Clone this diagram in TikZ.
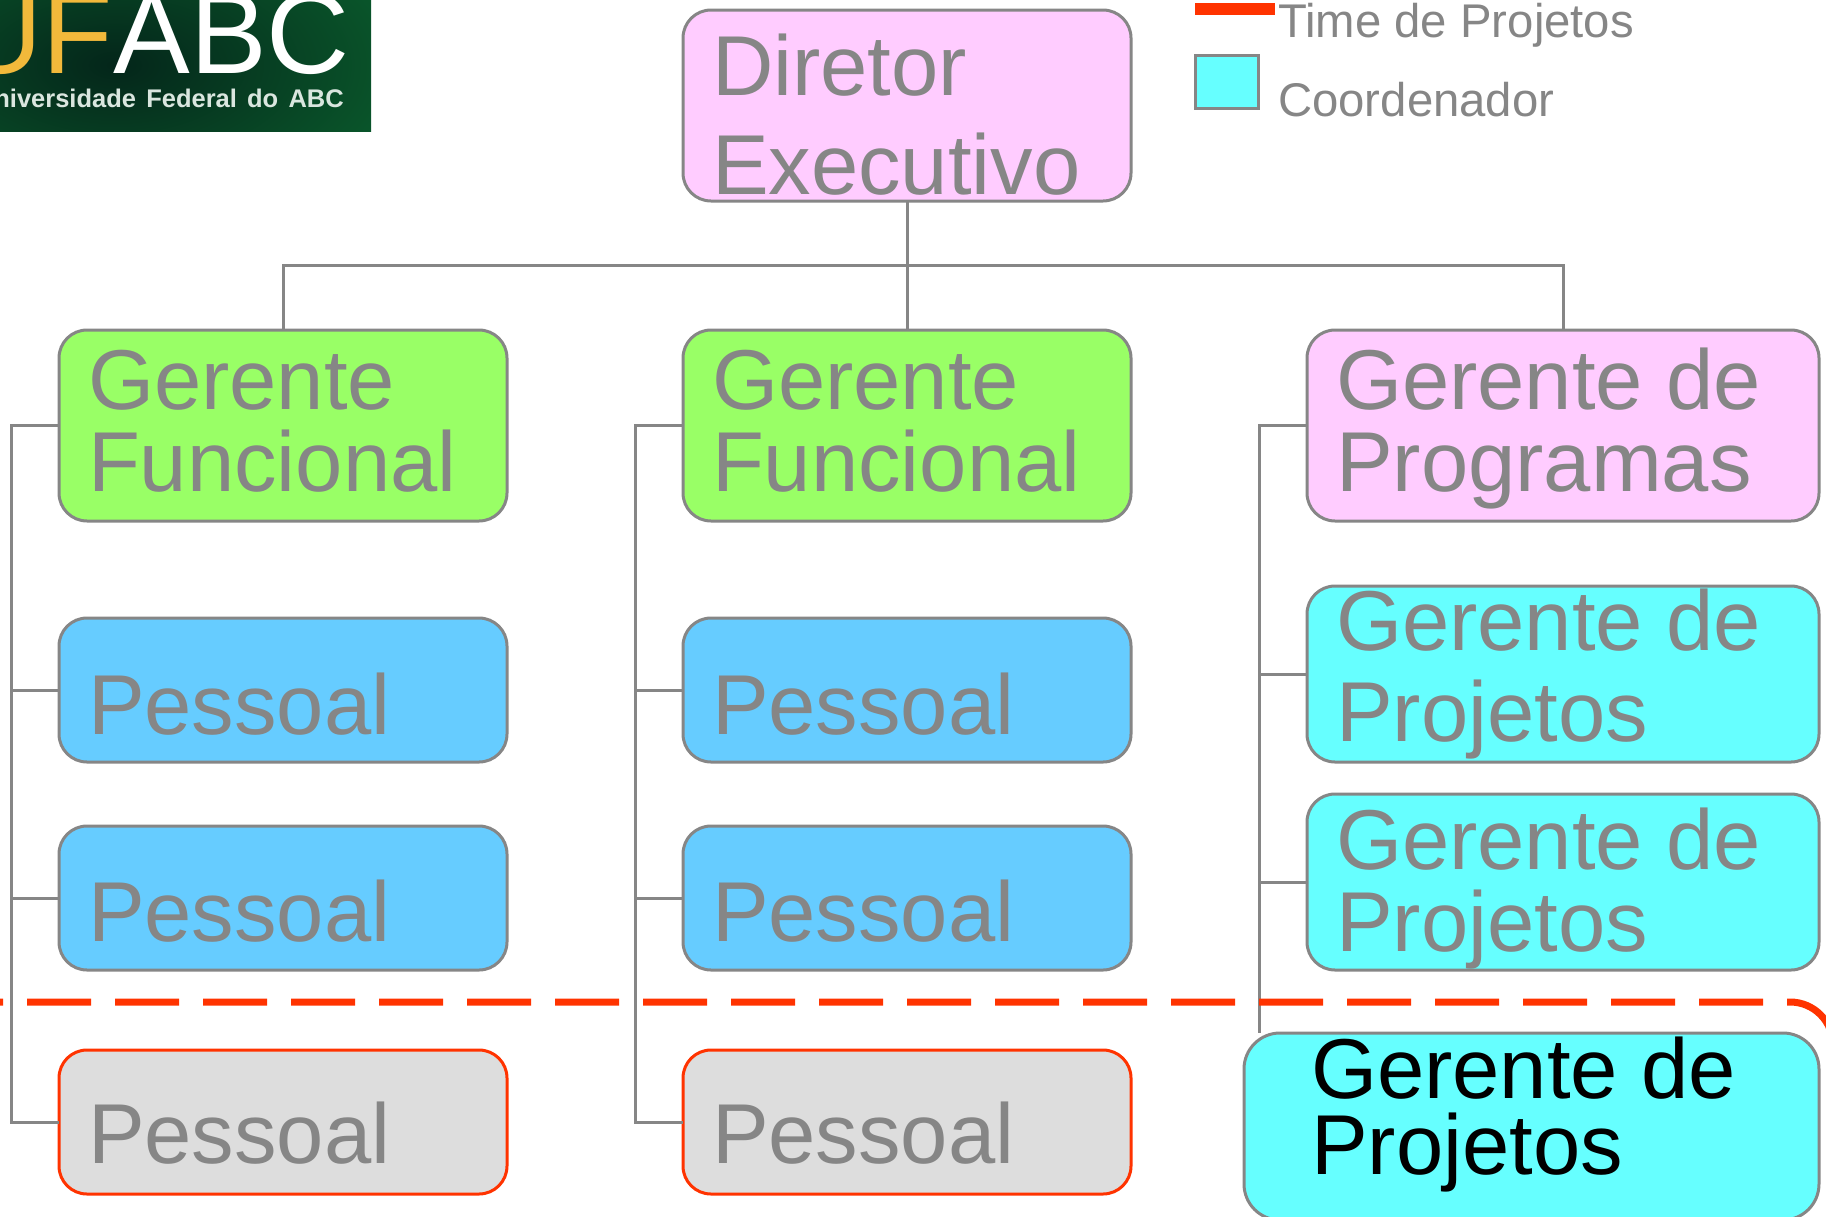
\documentclass[tikz,border=0pt]{standalone}
\usepackage{fontspec}
\setmainfont{Liberation Sans}
\usepackage{tikz}
\usetikzlibrary{positioning}
\definecolor{linegray}{HTML}{868686}
\definecolor{teamred}{HTML}{FF3300}
\definecolor{boxpink}{HTML}{FFCCFF}
\definecolor{boxgreen}{HTML}{99FF66}
\definecolor{boxblue}{HTML}{66CCFF}
\definecolor{boxcyan}{HTML}{66FFFF}
\definecolor{boxgray}{HTML}{DDDDDD}
\definecolor{logogreen}{HTML}{0A5A2C}
\definecolor{logodark}{HTML}{04261A}
\definecolor{logogold}{HTML}{F2B93B}
\tikzset{
    orgbox/.style={draw=linegray, line width=3pt, rounded corners=28pt, outer sep=0pt,
        inner ysep=0pt, inner xsep=29pt, align=flush left, text=linegray},
    wide/.style={text width=390pt},
    wider/.style={text width=454pt},
    leading/.style={font=\fontsize{85pt}{#1pt}\selectfont},
    staffbox/.style={orgbox, wide, fill=boxblue, leading=82, text height=116pt, text depth=28pt},
    funcbox/.style={orgbox, wide, fill=boxgreen, leading=82, text height=79pt, text depth=112pt},
    teambox/.style={staffbox, draw=teamred, fill=boxgray, text height=113pt, text depth=31pt},
    orgline/.style={draw=linegray, line width=3pt},
    legendtext/.style={anchor=base west, inner sep=0pt, text=linegray, font=\fontsize{47.3pt}{50pt}\selectfont},
}
\begin{document}
\begin{tikzpicture}
    \useasboundingbox (0,0) rectangle (1826pt,-1216pt);
    % logo
    \begin{scope}
        \clip (0,0) rectangle (371pt,-131pt);
        \shade[inner color=logodark, outer color=logogreen] (-200pt,-230pt) rectangle (430pt,100pt);
        \node[anchor=base east, inner sep=0pt, text=white, font=\fontsize{115pt}{115pt}\selectfont] (logo_abc) at (350pt,-73pt) {ABC};
        \node[left=0pt of logo_abc.base west, anchor=base east, inner sep=0pt, text=logogold, font=\fontsize{115pt}{115pt}\selectfont] (logo_uf) {UF};
        \node[anchor=base east, inner sep=0pt, text=white!85!logogreen, font=\fontsize{25.5pt}{27pt}\selectfont\bfseries\spaceskip 0.4em\relax] (logo_name) at (344pt,-107pt) {Universidade Federal do ABC};
    \end{scope}
    % top of the chart
    \node[orgbox, wide, fill=boxpink, leading=99, anchor=north west, text height=85pt, text depth=106pt] (diretor) at (683pt,-10pt) {Diretor\\Executivo};
    % second row
    \node[funcbox, below=129pt of diretor] (func_b) {Gerente\\Funcional};
    \node[funcbox, left=176pt of func_b] (func_a) {Gerente\\Funcional};
    \node[orgbox, wider, fill=boxpink, leading=82, text height=79pt, text depth=112pt, right=176pt of func_b] (prog) {Gerente de\\Programas};
    % staff left
    \node[staffbox, below=97pt of func_a] (staff_a_top) {Pessoal};
    \node[staffbox, below=64pt of staff_a_top, text height=115pt, text depth=29pt] (staff_a_mid) {Pessoal};
    \node[teambox, below=80pt of staff_a_mid] (staff_a_low) {Pessoal};
    % staff middle
    \node[staffbox, below=97pt of func_b] (staff_b_top) {Pessoal};
    \node[staffbox, below=64pt of staff_b_top, text height=115pt, text depth=29pt] (staff_b_mid) {Pessoal};
    \node[teambox, below=80pt of staff_b_mid] (staff_b_low) {Pessoal};
    % project managers
    \node[orgbox, wider, fill=boxcyan, leading=91, text height=64pt, text depth=112pt, below=65pt of prog] (proj_a) {Gerente de\\Projetos};
    \node[orgbox, wider, fill=boxcyan, leading=82, text height=75pt, text depth=101pt, below=32pt of proj_a] (proj_b) {Gerente de\\Projetos};
    \node[orgbox, fill=boxcyan, text=black, rounded corners=36pt, inner xsep=67pt, text width=441pt, leading=76, text height=65pt, text depth=122pt, below=63pt of proj_b.south east, anchor=north east] (proj_c) {Gerente de\\Projetos};
    % legend
    \coordinate (legend_bar_in) at (1195pt,-9pt);
    \coordinate (legend_bar_out) at (1275pt,-9pt);
    \draw[teamred, line width=12.6pt] (legend_bar_in) -- (legend_bar_out);
    \node[draw=linegray, fill=boxcyan, line width=3pt, anchor=north west, minimum width=63pt, minimum height=53pt, inner sep=0pt, outer sep=0pt] (legend_box) at (1195pt,-55pt) {};
    \node[legendtext] (legend_team) at (1278pt,-37pt) {Time de Projetos};
    \node[legendtext] (legend_coord) at (1278pt,-116pt) {Coordenador};
    % draw connectors
    \coordinate (bus) at (907pt,-265pt);
    \draw[orgline] (diretor.south) -- (func_b.north);
    \draw[orgline] (func_a.north) |- (bus) -| (prog.north);
    \draw[orgline] (func_a.west) -- ++(-48pt,0) |- (staff_a_low.west);
    \draw[orgline] (staff_a_top.west) -- ++(-48pt,0);
    \draw[orgline] (staff_a_mid.west) -- ++(-48pt,0);
    \draw[orgline] (func_b.west) -- ++(-48pt,0) |- (staff_b_low.west);
    \draw[orgline] (staff_b_top.west) -- ++(-48pt,0);
    \draw[orgline] (staff_b_mid.west) -- ++(-48pt,0);
    \draw[orgline] (prog.west) -- ++(-48pt,0) coordinate (proj_trunk) -- (proj_trunk |- proj_c.north);
    \draw[orgline] (proj_a.west) -- ++(-48pt,0);
    \draw[orgline] (proj_b.west) -- ++(-48pt,0);
    % team boundary
    \coordinate (team_in) at (-61pt,-1002pt);
    \coordinate (team_turn) at (1790pt,-1002pt);
    \draw[teamred, line width=7pt, dash pattern=on 64pt off 24pt] (team_in) -- (team_turn) arc[start angle=90, end angle=0, radius=43pt];
\end{tikzpicture}
\end{document}
